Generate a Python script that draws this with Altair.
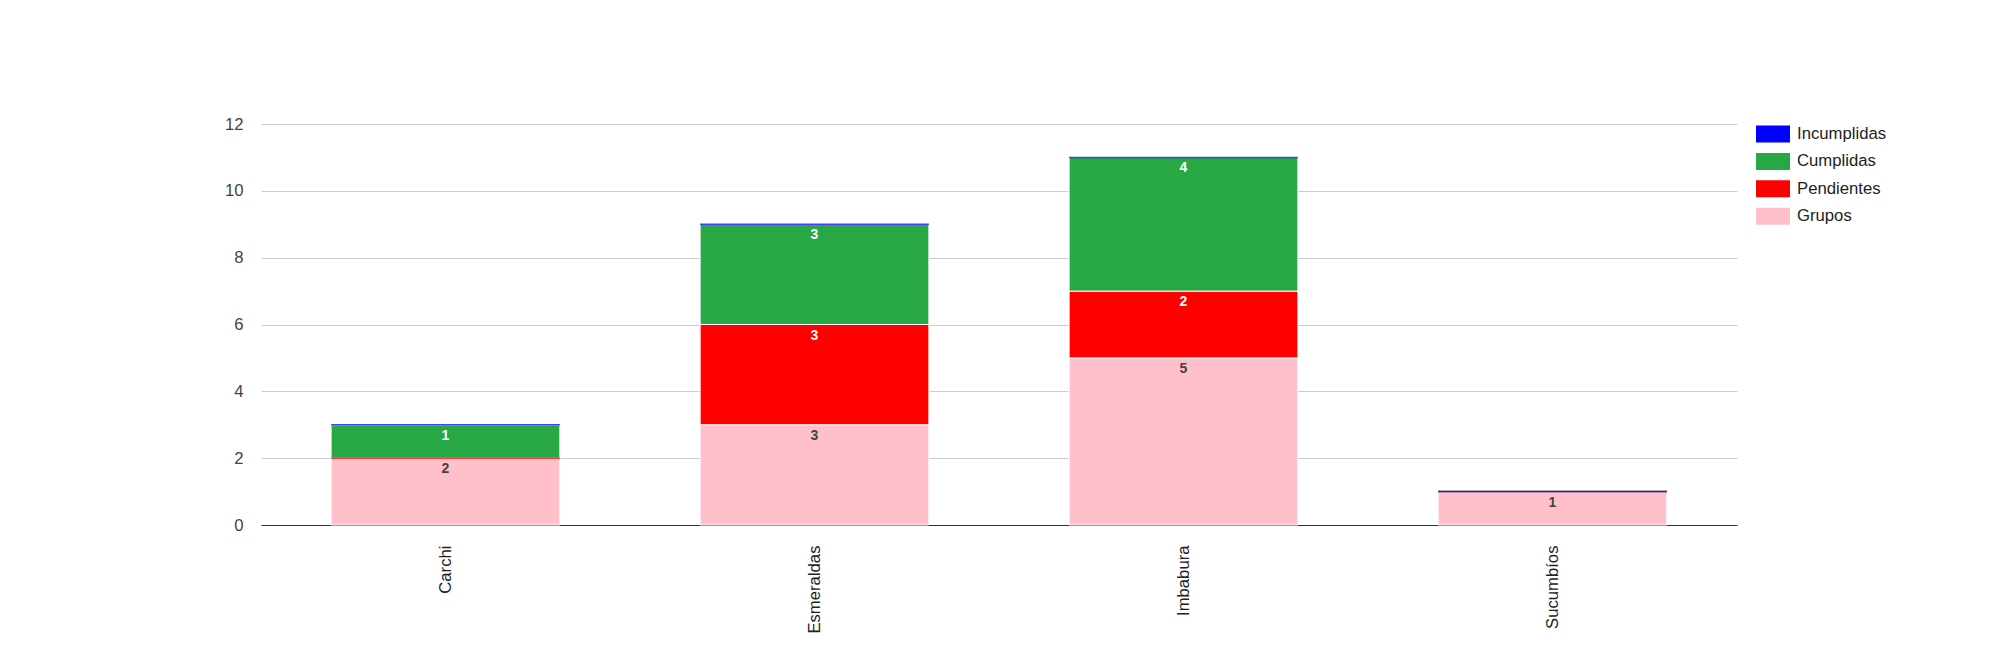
import altair as alt
import pandas as pd

provincias = ["Carchi", "Esmeraldas", "Imbabura", "Sucumbíos"]
grupos = [2, 3, 5, 1]
pendientes = [0, 3, 2, 0]
cumplidas = [1, 3, 4, 0]
incumplidas = [0, 0, 0, 0]

series = ["Grupos", "Pendientes", "Cumplidas", "Incumplidas"]
legend_order = ["Incumplidas", "Cumplidas", "Pendientes", "Grupos"]
colores = ["#0000ff", "#28a745", "#ff0000", "#ffc0cb"]
y_ticks = list(range(0, 13))

valores = {"Grupos": grupos, "Pendientes": pendientes,
           "Cumplidas": cumplidas, "Incumplidas": incumplidas}
rows = []
for s_i, s in enumerate(series):
    for p_i, p in enumerate(provincias):
        rows.append({"provincia": p, "serie": s, "orden": s_i, "valor": valores[s][p_i]})
df = pd.DataFrame(rows)

FONT = "Liberation Sans"

base = alt.Chart(df).transform_stack(
    stack="valor", groupby=["provincia"],
    sort=[alt.SortField("orden", order="ascending")], as_=["y0", "y1"]
)

x = alt.X("provincia:N", sort=provincias,
          scale=alt.Scale(paddingInner=0.38, paddingOuter=0.19),
          axis=alt.Axis(title=None, labelAngle=-90, labelAlign="right", labelBaseline="middle",
                        labelPadding=20, labelFontSize=16.7, labelColor="#222", ticks=False,
                        domainColor="#333", grid=False, labelFont=FONT))

y_axis = alt.Axis(title=None, values=y_ticks,
                  labelExpr="datum.value % 2 == 0 ? datum.label : ''",
                  gridColor=alt.condition("datum.value % 2 == 0", alt.value("#cccccc"), alt.value("#ebebeb")),
                  domain=False, ticks=False, labelPadding=18, labelFontSize=16.7,
                  labelColor="#444", labelFont=FONT)

color_scale = alt.Scale(domain=legend_order, range=colores)

bars = base.mark_bar(stroke="white", strokeWidth=1).encode(
    x=x,
    y=alt.Y("y0:Q", scale=alt.Scale(domain=[0, 12], nice=False), axis=y_axis),
    y2="y1:Q",
    color=alt.Color("serie:N", scale=color_scale,
                    legend=alt.Legend(title=None, orient="none", legendX=1495, legendY=-7,
                                      symbolType="M-1,-0.5L1,-0.5L1,0.5L-1,0.5Z",
                                      symbolSize=1156, symbolStrokeWidth=0, symbolOpacity=1,
                                      labelFontSize=16.7, labelColor="#222", labelOffset=7,
                                      labelFont=FONT, rowPadding=1.4)),
    order=alt.Order("orden:Q"),
)

zeros = base.transform_filter("datum.valor == 0").mark_bar(fillOpacity=0, strokeWidth=1.5, strokeOpacity=0.75).encode(
    x=x,
    y="y0:Q",
    y2="y1:Q",
    stroke=alt.Stroke("serie:N", scale=color_scale, legend=None),
)

labels = base.transform_filter("datum.valor > 0").mark_text(
    baseline="alphabetic", dy=15, fontWeight="bold", fontSize=14, font=FONT
).encode(
    x=x,
    y="y1:Q",
    text="valor:Q",
    color=alt.condition("datum.serie == 'Grupos'", alt.value("#444444"), alt.value("white")),
)

chart = alt.layer(bars, zeros, labels).properties(
    width=1476, height=401,
    padding={"left": 253, "top": 116, "right": 255, "bottom": 117},
    autosize=alt.AutoSizeParams(type="none"),
).configure(font=FONT).configure_view(stroke=None)

chart.save("out.html", embed_options={"renderer": "svg", "actions": False})
